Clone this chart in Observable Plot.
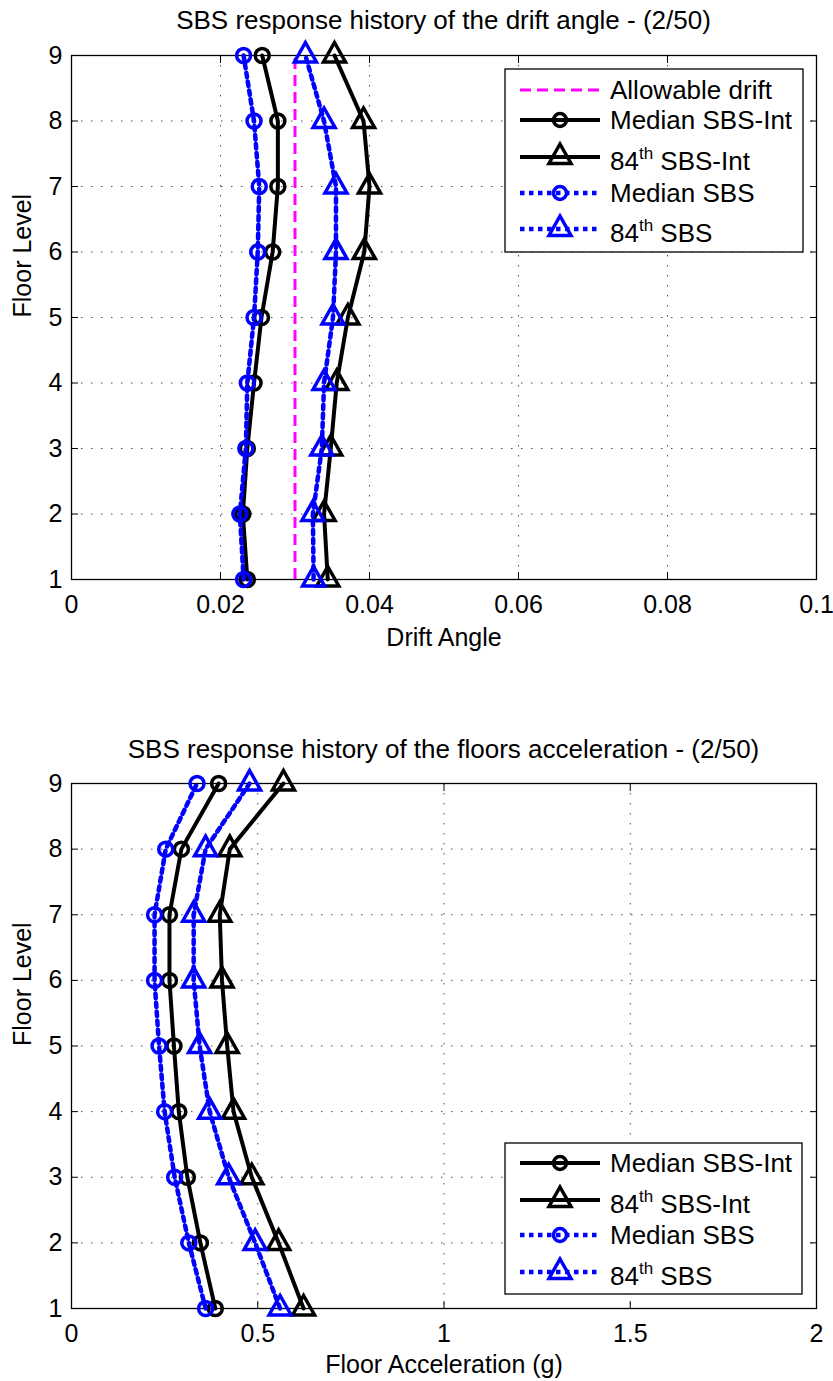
<!DOCTYPE html>
<html>
<head>
<meta charset="utf-8">
<script src="https://cdn.jsdelivr.net/npm/d3@7"></script>
<script src="https://cdn.jsdelivr.net/npm/@observablehq/plot@0.6"></script>
<style>
  body { margin: 0; background: #fff; font-family: "Liberation Sans", Arial, Helvetica, sans-serif; }
  #page { position: relative; width: 833px; height: 1381px; overflow: hidden; background: #fff; }
  .title { position: absolute; z-index: 2; left: 71px; width: 745px; text-align: center; font-size: 26px; line-height: 32px; color: #000; white-space: nowrap; }
  .panel { position: absolute; left: 0; z-index: 1; }
  #overlay { position: absolute; left: 0; top: 0; z-index: 3; pointer-events: none; }
</style>
</head>
<body>
<div id="page"></div>
<script>
// ---- data ----------------------------------------------------------------
const floors = [1, 2, 3, 4, 5, 6, 7, 8, 9];
const seriesNames = ["Median SBS-Int", "84th SBS-Int", "Median SBS", "84th SBS"];

// Inter-storey drift angle per floor (floors 1..9)
const driftMedianInt = [0.0236, 0.0230, 0.0236, 0.0245, 0.0255, 0.0270, 0.0277, 0.0277, 0.0256];
const drift84Int     = [0.0344, 0.0339, 0.0348, 0.0356, 0.0371, 0.0393, 0.0400, 0.0392, 0.0353];
const driftMedian    = [0.0231, 0.0226, 0.0234, 0.0236, 0.0245, 0.0250, 0.0252, 0.0245, 0.0231];
const drift84        = [0.0325, 0.0324, 0.0336, 0.0339, 0.0351, 0.0355, 0.0355, 0.0339, 0.0314];
const allowableDrift = 0.03;

// Peak floor acceleration (g) per floor (floors 1..9)
const accelMedianInt = [0.386, 0.346, 0.311, 0.288, 0.275, 0.263, 0.263, 0.295, 0.395];
const accel84Int     = [0.623, 0.556, 0.484, 0.435, 0.418, 0.404, 0.398, 0.425, 0.569];
const accelMedian    = [0.360, 0.315, 0.277, 0.250, 0.235, 0.223, 0.223, 0.253, 0.337];
const accel84        = [0.560, 0.493, 0.422, 0.371, 0.344, 0.328, 0.328, 0.360, 0.478];

const driftTicks = [0, 0.02, 0.04, 0.06, 0.08, 0.1];
const accelTicks = [0, 0.5, 1, 1.5, 2];

const driftTitle = "SBS response history of the drift angle - (2/50)";
const accelTitle = "SBS response history of the floors acceleration - (2/50)";
const allowableName = "Allowable drift";

// ---- styles ----------------------------------------------------------------
const FONT = '"Liberation Sans", Arial, Helvetica, sans-serif';
const seriesStyles = [
  {stroke: "#000000", width: 4,   dash: null,  marker: "circle"},
  {stroke: "#000000", width: 4,   dash: null,  marker: "triangle"},
  {stroke: "#0000ff", width: 4.5, dash: "4.5,4.5", marker: "circle"},
  {stroke: "#0000ff", width: 4.5, dash: "4.5,4.5", marker: "triangle"}
];
const magenta = {stroke: "#ff00ff", width: 3, dash: "11,6"};
const MARKER_WIDTH = 3.5;

// upward triangle centred on its centroid
const triPath = (ctx) => { ctx.moveTo(0, -13); ctx.lineTo(11, 6.5); ctx.lineTo(-11, 6.5); ctx.closePath(); };
const triangleSym = {draw(ctx) { triPath(ctx); }};

function toRows(values) {
  return floors.map((f, i) => ({floor: f, value: values[i]}));
}

function seriesMarks(seriesValues) {
  const marks = [];
  seriesValues.forEach((vals, i) => {
    const s = seriesStyles[i];
    const rows = toRows(vals);
    marks.push(Plot.line(rows, {x: "value", y: "floor", stroke: s.stroke, strokeWidth: s.width,
      strokeDasharray: s.dash ?? undefined, strokeLinejoin: "round"}));
    marks.push(Plot.dot(rows, {x: "value", y: "floor", r: 7, fill: "none", stroke: s.stroke, strokeWidth: MARKER_WIDTH,
      symbol: s.marker === "circle" ? "circle" : triangleSym}));
  });
  return marks;
}

function panel({xDomain, xTicks, xLabel, xLabelDy, seriesValues, extras, height, marginTop, marginBottom}) {
  const gridStyle = {stroke: "#000", strokeOpacity: 0.7, strokeDasharray: "1.5,8.5", strokeWidth: 1};
  return Plot.plot({
    width: 833,
    height,
    marginLeft: 71,
    marginRight: 17,
    marginTop,
    marginBottom,
    style: {fontFamily: FONT, fontSize: "25px", color: "#000", background: "transparent", overflow: "visible"},
    x: {domain: xDomain},
    y: {domain: [1, 9]},
    marks: [
      Plot.gridX(xTicks, gridStyle),
      Plot.gridY(floors, gridStyle),
      // inward ticks on all four sides
      Plot.axisX(xTicks, {anchor: "bottom", tickSize: -7, tickFormat: () => "", label: null}),
      Plot.axisX(xTicks, {anchor: "top", tickSize: -7, tickFormat: () => "", label: null}),
      Plot.axisY(floors, {anchor: "left", tickSize: -7, tickFormat: () => "", label: null}),
      Plot.axisY(floors, {anchor: "right", tickSize: -7, tickFormat: () => "", label: null}),
      // tick labels
      Plot.axisX(xTicks, {anchor: "bottom", tickSize: 0, tickPadding: 16, tickFormat: d => String(d), label: null}),
      Plot.axisY(floors, {anchor: "left", tickSize: 0, tickPadding: 9, tickFormat: d => String(d), label: null}),
      Plot.frame({stroke: "#000", strokeWidth: 1.3}),
      ...extras,
      ...seriesMarks(seriesValues),
      Plot.text([xLabel], {frameAnchor: "bottom", dy: xLabelDy, lineAnchor: "middle", fontSize: 25}),
      Plot.text(["Floor Level"], {frameAnchor: "left", dx: -49, rotate: -90, lineAnchor: "middle", fontSize: 25})
    ]
  });
}

const page = document.getElementById("page");

function addTitle(text, top) {
  const d = document.createElement("div");
  d.className = "title";
  d.style.top = top + "px";
  d.textContent = text;
  page.appendChild(d);
}

function addPanel(svg, top) {
  svg.classList.add("panel");
  svg.style.position = "absolute";
  svg.style.top = top + "px";
  page.appendChild(svg);
}

// ---- drift panel ----
addPanel(panel({
  xDomain: [0, 0.1], xTicks: driftTicks, xLabel: "Drift Angle", xLabelDy: 58,
  seriesValues: [driftMedianInt, drift84Int, driftMedian, drift84],
  extras: [Plot.ruleX([allowableDrift], {y1: 1, y2: 9, stroke: magenta.stroke, strokeWidth: magenta.width, strokeDasharray: magenta.dash})],
  height: 660, marginTop: 55, marginBottom: 81
}), 0);
addTitle(driftTitle, 4);

// ---- acceleration panel ----
addPanel(panel({
  xDomain: [0, 2], xTicks: accelTicks, xLabel: "Floor Acceleration (g)", xLabelDy: 56,
  seriesValues: [accelMedianInt, accel84Int, accelMedian, accel84],
  extras: [],
  height: 681, marginTop: 83, marginBottom: 73
}), 700);
addTitle(accelTitle, 733);

// ---- legends ----
const overlay = d3.select(page).append("svg")
  .attr("id", "overlay").attr("width", 833).attr("height", 1381)
  .style("font-family", FONT).style("font-size", "26px");

function legendLabel(textSel, name) {
  const m = name.match(/^(\d+)(th)(.*)$/);
  if (m) {
    textSel.append("tspan").text(m[1]);
    textSel.append("tspan").attr("font-size", 17).attr("dy", -11).text(m[2]);
    textSel.append("tspan").attr("dy", 11).text(m[3]);
  } else {
    textSel.text(name);
  }
}

function drawLegend(box, rows) {
  const g = overlay.append("g");
  g.append("rect").attr("x", box.x).attr("y", box.y).attr("width", box.w).attr("height", box.h)
    .attr("fill", "#fff").attr("stroke", "#000").attr("stroke-width", 1.3);
  rows.forEach(r => {
    const y = box.y + r.dy;
    g.append("line").attr("x1", box.x + 15).attr("x2", box.x + 95).attr("y1", y).attr("y2", y)
      .attr("stroke", r.style.stroke).attr("stroke-width", r.style.width)
      .attr("stroke-dasharray", r.style.dash ?? null);
    const cx = box.x + 55;
    if (r.style.marker === "circle") {
      g.append("circle").attr("cx", cx).attr("cy", y).attr("r", 6.5)
        .attr("fill", "none").attr("stroke", r.style.stroke).attr("stroke-width", MARKER_WIDTH);
    } else if (r.style.marker === "triangle") {
      const p = d3.path(); triPath(p);
      g.append("path").attr("d", p.toString()).attr("transform", `translate(${cx},${y})`)
        .attr("fill", "none").attr("stroke", r.style.stroke).attr("stroke-width", MARKER_WIDTH);
    }
    const t = g.append("text").attr("x", box.x + 105).attr("y", y + r.textDy).attr("fill", "#000");
    legendLabel(t, r.name);
  });
}

drawLegend({x: 505, y: 69, w: 298, h: 183}, [
  {name: allowableName, style: magenta, dy: 21, textDy: 9},
  {name: seriesNames[0], style: seriesStyles[0], dy: 51, textDy: 9},
  {name: seriesNames[1], style: seriesStyles[1], dy: 88, textDy: 13},
  {name: seriesNames[2], style: seriesStyles[2], dy: 124, textDy: 9},
  {name: seriesNames[3], style: seriesStyles[3], dy: 160, textDy: 13}
]);

drawLegend({x: 505, y: 1143, w: 297, h: 151}, [
  {name: seriesNames[0], style: seriesStyles[0], dy: 20, textDy: 9},
  {name: seriesNames[1], style: seriesStyles[1], dy: 57, textDy: 13},
  {name: seriesNames[2], style: seriesStyles[2], dy: 92, textDy: 9},
  {name: seriesNames[3], style: seriesStyles[3], dy: 129, textDy: 13}
]);
</script>
</body>
</html>
